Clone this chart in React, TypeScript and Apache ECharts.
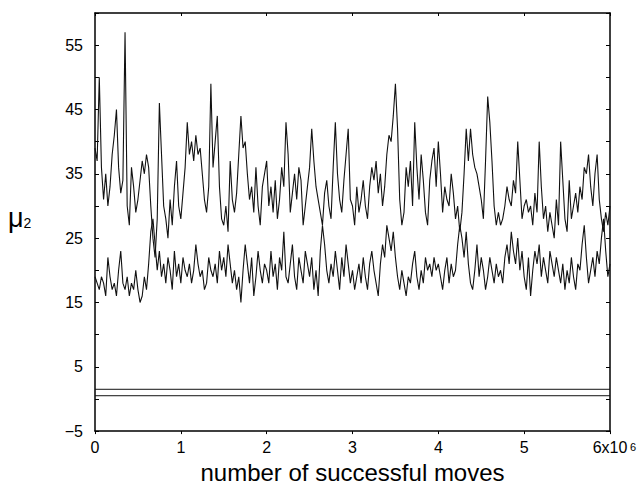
import React, { useEffect, useRef } from "react";
import * as echarts from "echarts";

// x step between samples (number of successful moves)
const STEP = 25000;

// upper trace (μ2, run A)
const traceA: number[] = [
  39, 37, 50, 36, 31, 35, 30, 33, 38, 41, 45, 36, 32, 34, 57, 30, 27, 36, 33, 29,
  31, 34, 37, 35, 38, 36, 30, 25, 22, 28, 46, 38, 30, 28, 25, 31, 27, 33, 37, 30,
  28, 32, 36, 43, 38, 40, 37, 41, 38, 39, 35, 31, 29, 33, 49, 36, 40, 44, 33, 28,
  27, 30, 26, 37, 31, 29, 32, 38, 44, 39, 40, 35, 31, 33, 29, 36, 30, 27, 33, 35,
  37, 30, 33, 29, 34, 28, 31, 36, 33, 43, 38, 29, 32, 35, 31, 36, 34, 27, 30, 33,
  36, 42, 37, 33, 31, 29, 27, 32, 34, 30, 28, 36, 43, 35, 31, 29, 34, 38, 42, 31,
  30, 27, 33, 29, 31, 34, 30, 28, 33, 36, 34, 37, 32, 35, 30, 33, 38, 41, 40, 44,
  49, 42, 31, 27, 29, 36, 33, 37, 30, 43, 36, 31, 38, 34, 29, 27, 34, 37, 39, 33,
  40, 35, 29, 33, 31, 30, 35, 32, 28, 30, 26, 29, 35, 42, 37, 42, 38, 36, 35, 33,
  31, 28, 37, 47, 43, 37, 30, 27, 29, 27, 28, 30, 33, 31, 30, 34, 32, 40, 34, 28,
  30, 31, 29, 30, 27, 32, 29, 40, 33, 28, 30, 26, 29, 27, 25, 31, 27, 40, 34, 28,
  26, 34, 28, 30, 32, 29, 33, 31, 36, 35, 38, 33, 30, 35, 38, 31, 28, 26, 29, 27,
  30,
];

// lower trace (μ2, run B)
const traceB: number[] = [
  19, 18, 17, 19, 18, 16, 22, 19, 17, 18, 16, 20, 23, 18, 17, 19, 16, 18, 17, 20,
  17, 15, 16, 19, 17, 21, 26, 28, 24, 20, 23, 19, 21, 18, 22, 20, 17, 23, 19, 21,
  18, 22, 20, 19, 21, 18, 20, 24, 21, 19, 20, 17, 18, 22, 20, 19, 21, 18, 23, 20,
  22, 19, 24, 21, 18, 20, 17, 19, 15, 20, 24, 21, 18, 22, 16, 19, 23, 20, 18, 21,
  20, 18, 23, 19, 21, 17, 22, 20, 26, 19, 18, 21, 24, 19, 17, 22, 20, 18, 23, 21,
  19, 22, 17, 20, 16, 23, 27, 24, 20, 18, 21, 19, 23, 20, 17, 22, 19, 24, 21, 18,
  20, 17, 19, 21, 18, 22, 19, 17, 21, 23, 20, 18, 16, 21, 24, 22, 27, 25, 23, 26,
  22, 19, 17, 20, 18, 16, 19, 18, 21, 23, 19, 17, 20, 18, 22, 20, 21, 19, 22, 20,
  21, 19, 17, 20, 22, 18, 21, 19, 20, 24, 27, 25, 22, 26, 21, 18, 17, 20, 24, 19,
  22, 20, 17, 19, 22, 20, 18, 21, 19, 20, 18, 22, 24, 21, 26, 23, 21, 25, 20, 23,
  19, 17, 22, 16, 20, 23, 21, 24, 19, 22, 20, 18, 23, 21, 19, 22, 20, 18, 21, 17,
  20, 18, 22, 19, 17, 21, 20, 24, 27, 22, 18, 20, 22, 19, 23, 21, 25, 28, 23, 19,
  21,
];

// flat traces
const flatHigh: number[] = [1.5, 1.5];
const flatLow: number[] = [0.5, 0.5];
const flatX: number[] = [0, 6000000];

const xTicks: number[] = [0, 1, 2, 3, 4, 5, 6];

const FONT = "Liberation Sans, Arial, Helvetica, sans-serif";

export default function App() {
  const ref = useRef<HTMLDivElement>(null);
  useEffect(() => {
    if (!ref.current) return;
    const chart = echarts.init(ref.current, undefined, { renderer: "svg" });
    const toPairs = (arr: number[]) => arr.map((v, i) => [i * STEP, v]);
    const flat = (arr: number[]) => arr.map((v, i) => [flatX[i], v]);
    const mk = (name: string, data: number[][], w = 1) => ({
      name,
      type: "line",
      data,
      showSymbol: false,
      symbol: "none",
      lineStyle: { color: "#111", width: w },
      xAxisIndex: 0,
      yAxisIndex: 0,
    });
    chart.setOption({
      animation: false,
      backgroundColor: "#fff",
      grid: { left: 95, right: 29, top: 13, bottom: 50, containLabel: false },
      xAxis: [
        {
          type: "value",
          min: 0,
          max: 6000000,
          interval: 1000000,
          position: "bottom",
          name: "number of successful moves",
          nameLocation: "middle",
          nameGap: 26,
          nameTextStyle: { fontFamily: FONT, fontSize: 24, color: "#000" },
          axisLine: { onZero: false, lineStyle: { color: "#000", width: 1.5 } },
          axisTick: { inside: false, length: 3, lineStyle: { color: "#000" } },
          splitLine: { show: false },
          axisLabel: {
            margin: 8,
            fontFamily: FONT,
            fontSize: 16,
            color: "#000",
            formatter: (v: number) => {
              const m = Math.round(v / 1000000);
              if (m === xTicks[xTicks.length - 1]) return m + "x10";
              return String(m);
            },
          },
        },
        {
          type: "value",
          min: 0,
          max: 6000000,
          interval: 1000000,
          position: "top",
          axisLine: { onZero: false, lineStyle: { color: "#000", width: 1.5 } },
          axisTick: { inside: true, length: 3, lineStyle: { color: "#000" } },
          axisLabel: { show: false },
          splitLine: { show: false },
        },
      ],
      yAxis: [
        {
          type: "value",
          min: -5,
          max: 60,
          interval: 5,
          axisLine: { show: true, onZero: false, lineStyle: { color: "#000", width: 1.5 } },
          axisTick: { show: true, inside: true, length: 4, lineStyle: { color: "#000" } },
          splitLine: { show: false },
          axisLabel: {
            margin: 12,
            fontFamily: FONT,
            fontSize: 16,
            color: "#000",
            formatter: (v: number) => ((v + 5) % 10 === 0 && v < 60 ? String(v).replace("-", "\u2212") : ""),
          },
        },
        {
          type: "value",
          min: -5,
          max: 60,
          interval: 5,
          position: "right",
          axisLine: { show: true, onZero: false, lineStyle: { color: "#000", width: 1.5 } },
          axisTick: { show: true, inside: true, length: 4, lineStyle: { color: "#000" } },
          axisLabel: { show: false },
          splitLine: { show: false },
        },
      ],
      graphic: [
        {
          type: "text",
          left: 8,
          top: 204,
          style: {
            text: "{m|\u03bc}{s|2}",
            rich: {
              m: { fontFamily: FONT, fontSize: 27, fill: "#000" },
              s: { fontFamily: FONT, fontSize: 14, fill: "#000", padding: [10, 0, 0, 0] },
            },
          },
        },
        {
          type: "text",
          left: 630,
          top: 441,
          style: { text: "6", fontFamily: FONT, fontSize: 11, fill: "#000" },
        },
      ],
      series: [
        mk("A", toPairs(traceA), 1.1),
        mk("B", toPairs(traceB), 1.1),
        mk("high", flat(flatHigh), 1),
        mk("low", flat(flatLow), 1),
      ],
    });
    return () => chart.dispose();
  }, []);
  return (
    <div
      ref={ref}
      style={{ position: "fixed", left: 0, top: 0, width: 639, height: 489, background: "#fff" }}
    />
  );
}
